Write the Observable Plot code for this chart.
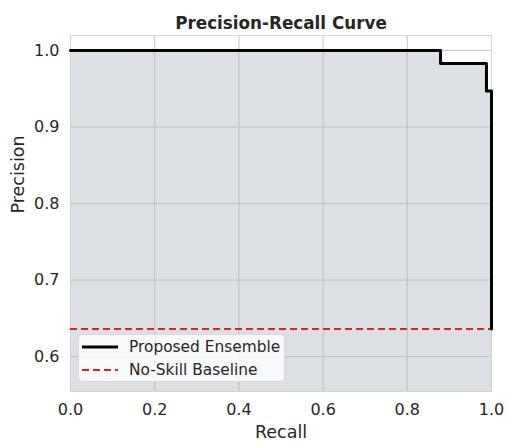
<!DOCTYPE html>
<html>
<head>
<meta charset="utf-8">
<script src="https://cdn.jsdelivr.net/npm/d3@7"></script>
<script src="https://cdn.jsdelivr.net/npm/@observablehq/plot@0.6"></script>
<style>
  html, body { margin: 0; padding: 0; background: #fff; }
  #wrap { position: relative; width: 506px; height: 441px; font-family: "DejaVu Sans", sans-serif; }
  #legend { position: absolute; left: 78px; top: 334px; width: 207px; height: 48px;
    background: rgba(255,255,255,0.8); border: 1px solid #d8d8d8; border-radius: 4px; box-sizing: border-box; }
  .item { position: absolute; left: 3px; display: flex; align-items: center; font-size: 15.4px; color: #262626; height: 20px; }
  .item svg { margin-right: 11px; }
</style>
</head>
<body>
<div id="wrap"></div>
<script>
const recall = [0.0, 0.879, 0.988, 1.0];
const precision = [1.0, 0.983, 0.947, 0.636];
const baseline = 0.636;
const xTicks = [0.0, 0.2, 0.4, 0.6, 0.8, 1.0];
const yTicks = [0.6, 0.7, 0.8, 0.9, 1.0];
const seriesNames = ["Proposed Ensemble", "No-Skill Baseline"];
const titleText = "Precision-Recall Curve";
const xLabel = "Recall";
const yLabel = "Precision";
const yDomain = [0.5545, 1.0195];

const pts = recall.map((r, i) => ({recall: r, precision: precision[i]}));

const chart = Plot.plot({
  width: 506,
  height: 441,
  marginLeft: 70,
  marginRight: 15,
  marginTop: 35,
  marginBottom: 50,
  style: {fontFamily: "DejaVu Sans, sans-serif", fontSize: "16px", color: "#262626", background: "#fff"},
  x: {domain: [0, 1], label: null},
  y: {domain: yDomain, label: null},
  marks: [
    Plot.areaY(pts, {x: "recall", y1: yDomain[0], y2: "precision", curve: "step-after", fill: "#dcdfe3"}),
    Plot.gridX(xTicks, {stroke: "#b8b8b8", strokeOpacity: 0.8, strokeWidth: 1}),
    Plot.gridY(yTicks, {stroke: "#b8b8b8", strokeOpacity: 0.8, strokeWidth: 1}),
    Plot.frame({stroke: "#d4d4d4", strokeWidth: 1}),
    Plot.ruleY([baseline], {stroke: "#e3221b", strokeWidth: 2, strokeDasharray: "7,4"}),
    Plot.line(pts, {x: "recall", y: "precision", curve: "step-after", stroke: "#000", strokeWidth: 3}),
    Plot.axisX({ticks: xTicks, tickFormat: d3.format(".1f"), tickSize: 0, tickPadding: 12, fontSize: 16, label: null}),
    Plot.axisY({ticks: yTicks, tickFormat: d3.format(".1f"), tickSize: 0, tickPadding: 11, fontSize: 16, label: null}),
    Plot.text([titleText], {frameAnchor: "top", dy: -18, text: d => d, fontWeight: "bold", fontSize: 16.8, fill: "#262626"}),
    Plot.text([xLabel], {frameAnchor: "bottom", dy: 46, text: d => d, fontSize: 17.5, fill: "#262626"}),
    Plot.text([yLabel], {frameAnchor: "left", dx: -52, rotate: -90, text: d => d, fontSize: 17.5, fill: "#262626"})
  ]
});
const wrap = document.getElementById("wrap");
wrap.appendChild(chart);

const legend = document.createElement("div");
legend.id = "legend";
const styles = [
  {stroke: "#000", width: 3, dash: null},
  {stroke: "#e3221b", width: 2, dash: "7,4"}
];
seriesNames.forEach((name, i) => {
  const item = document.createElement("div");
  item.className = "item";
  item.style.top = (i === 0 ? 2 : 25) + "px";
  const s = styles[i];
  item.innerHTML = `<svg width="36" height="10"><line x1="0" y1="5" x2="36" y2="5" stroke="${s.stroke}" stroke-width="${s.width}" ${s.dash ? `stroke-dasharray="${s.dash}"` : ""}/></svg><span>${name}</span>`;
  legend.appendChild(item);
});
wrap.appendChild(legend);
</script>
</body>
</html>
